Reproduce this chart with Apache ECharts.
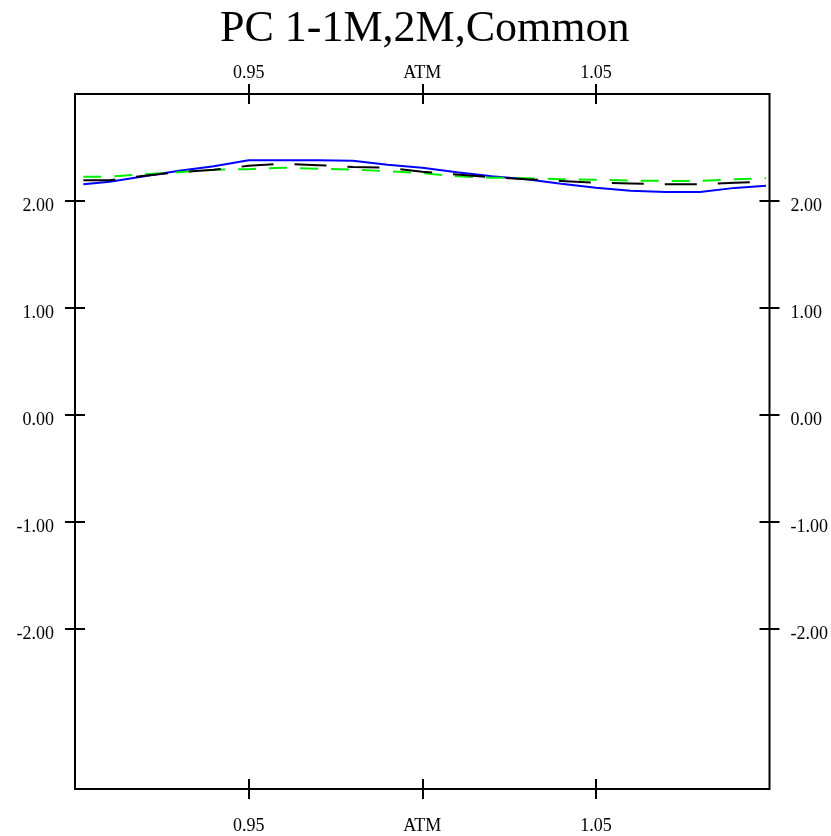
<!DOCTYPE html>
<html>
<head>
<meta charset="utf-8">
<title>PC 1-1M,2M,Common</title>
<script src="https://cdn.jsdelivr.net/npm/echarts@6/dist/echarts.min.js"></script>
<style>
  html, body { margin: 0; padding: 0; background: #fff; }
  #chart { width: 831px; height: 836px; }
</style>
</head>
<body>
<div id="chart"></div>
<script>
// moneyness on x, value on y
const strikes = [0.9024, 0.91, 0.92, 0.93, 0.94, 0.95, 0.96, 0.97, 0.98, 0.99, 1.00,
  1.01, 1.02, 1.03, 1.04, 1.05, 1.06, 1.07, 1.08, 1.09, 1.099]
const pc1M = [2.156, 2.18, 2.231, 2.283, 2.325, 2.381, 2.381, 2.381, 2.376, 2.339, 2.311,
  2.269, 2.231, 2.203, 2.161, 2.124, 2.096, 2.084, 2.084, 2.122, 2.142]
const pc2M = [2.194, 2.194, 2.236, 2.269, 2.292, 2.328, 2.348, 2.334, 2.318, 2.311, 2.273,
  2.247, 2.222, 2.203, 2.187, 2.170, 2.163, 2.156, 2.156, 2.170, 2.178]
const pcCommon = [2.225, 2.227, 2.25, 2.269, 2.292, 2.297, 2.311, 2.301, 2.292, 2.278, 2.259,
  2.231, 2.217, 2.213, 2.203, 2.199, 2.191, 2.187, 2.187, 2.203, 2.213]
const xTicks = [0.95, 1.00, 1.05]
const yTicks = [-2, -1, 0, 1, 2]

const font = 'Liberation Serif, Times New Roman, serif'
const chart = echarts.init(document.getElementById('chart'))

function pairs (ys) {
  return strikes.map((x, i) => [x, ys[i]])
}

function xLabel (v) {
  return Math.abs(v - 1) < 1e-9 ? 'ATM' : v.toFixed(2)
}

function xAxis (position, inside, margin) {
  return {
    type: 'value',
    position: position,
    min: 0.9,
    max: 1.1,
    interval: 0.05,
    axisLine: {show: false, onZero: false},
    splitLine: {show: false},
    axisTick: {
      show: true,
      inside: inside,
      length: 10,
      customValues: xTicks,
      lineStyle: {color: '#000', width: 2}
    },
    axisLabel: {
      show: !inside,
      customValues: xTicks,
      margin: margin,
      color: '#000',
      fontFamily: font,
      fontSize: 18,
      formatter: xLabel
    }
  }
}

function yAxis (position, inside) {
  return {
    type: 'value',
    position: position,
    min: -3.5,
    max: 3.0,
    interval: 0.5,
    axisLine: {show: false, onZero: false},
    splitLine: {show: false},
    axisTick: {
      show: true,
      inside: inside,
      length: 10,
      customValues: yTicks,
      lineStyle: {color: '#000', width: 2}
    },
    axisLabel: {
      show: !inside,
      customValues: yTicks,
      margin: 21,
      color: '#000',
      fontFamily: font,
      fontSize: 18,
      // labels sit a little below their ticks
      formatter: v => '{t|' + v.toFixed(2) + '}',
      rich: {
        t: {
          color: '#000',
          fontFamily: font,
          fontSize: 18,
          padding: [11, 0, 0, 0]
        }
      }
    }
  }
}

const option = {
  animation: false,
  backgroundColor: '#fff',
  title: {
    text: 'PC 1-1M,2M,Common',
    left: 215,
    top: 2,
    textStyle: {
      color: '#000',
      fontFamily: font,
      fontWeight: 'normal',
      fontSize: 44
    }
  },
  grid: {
    left: 75,
    right: 60,
    top: 94,
    bottom: 47,
    show: true,
    borderColor: '#000',
    borderWidth: 2,
    backgroundColor: 'transparent'
  },
  xAxis: [
    xAxis('bottom', false, 28),
    xAxis('bottom', true, 0),
    xAxis('top', false, 12),
    xAxis('top', true, 0)
  ],
  yAxis: [
    yAxis('left', false),
    yAxis('left', true),
    yAxis('right', false),
    yAxis('right', true)
  ],
  series: [
    {
      name: '1M',
      type: 'line',
      showSymbol: false,
      data: pairs(pc1M),
      lineStyle: {color: '#0000ff', width: 2, type: 'solid'}
    },
    {
      name: 'Common',
      type: 'line',
      showSymbol: false,
      data: pairs(pcCommon),
      lineStyle: {color: '#00ee00', width: 2, type: [18, 13]}
    },
    {
      name: '2M',
      type: 'line',
      showSymbol: false,
      data: pairs(pc2M),
      lineStyle: {color: '#000', width: 2, type: [32, 21]}
    }
  ]
}

chart.setOption(option)
</script>
</body>
</html>
